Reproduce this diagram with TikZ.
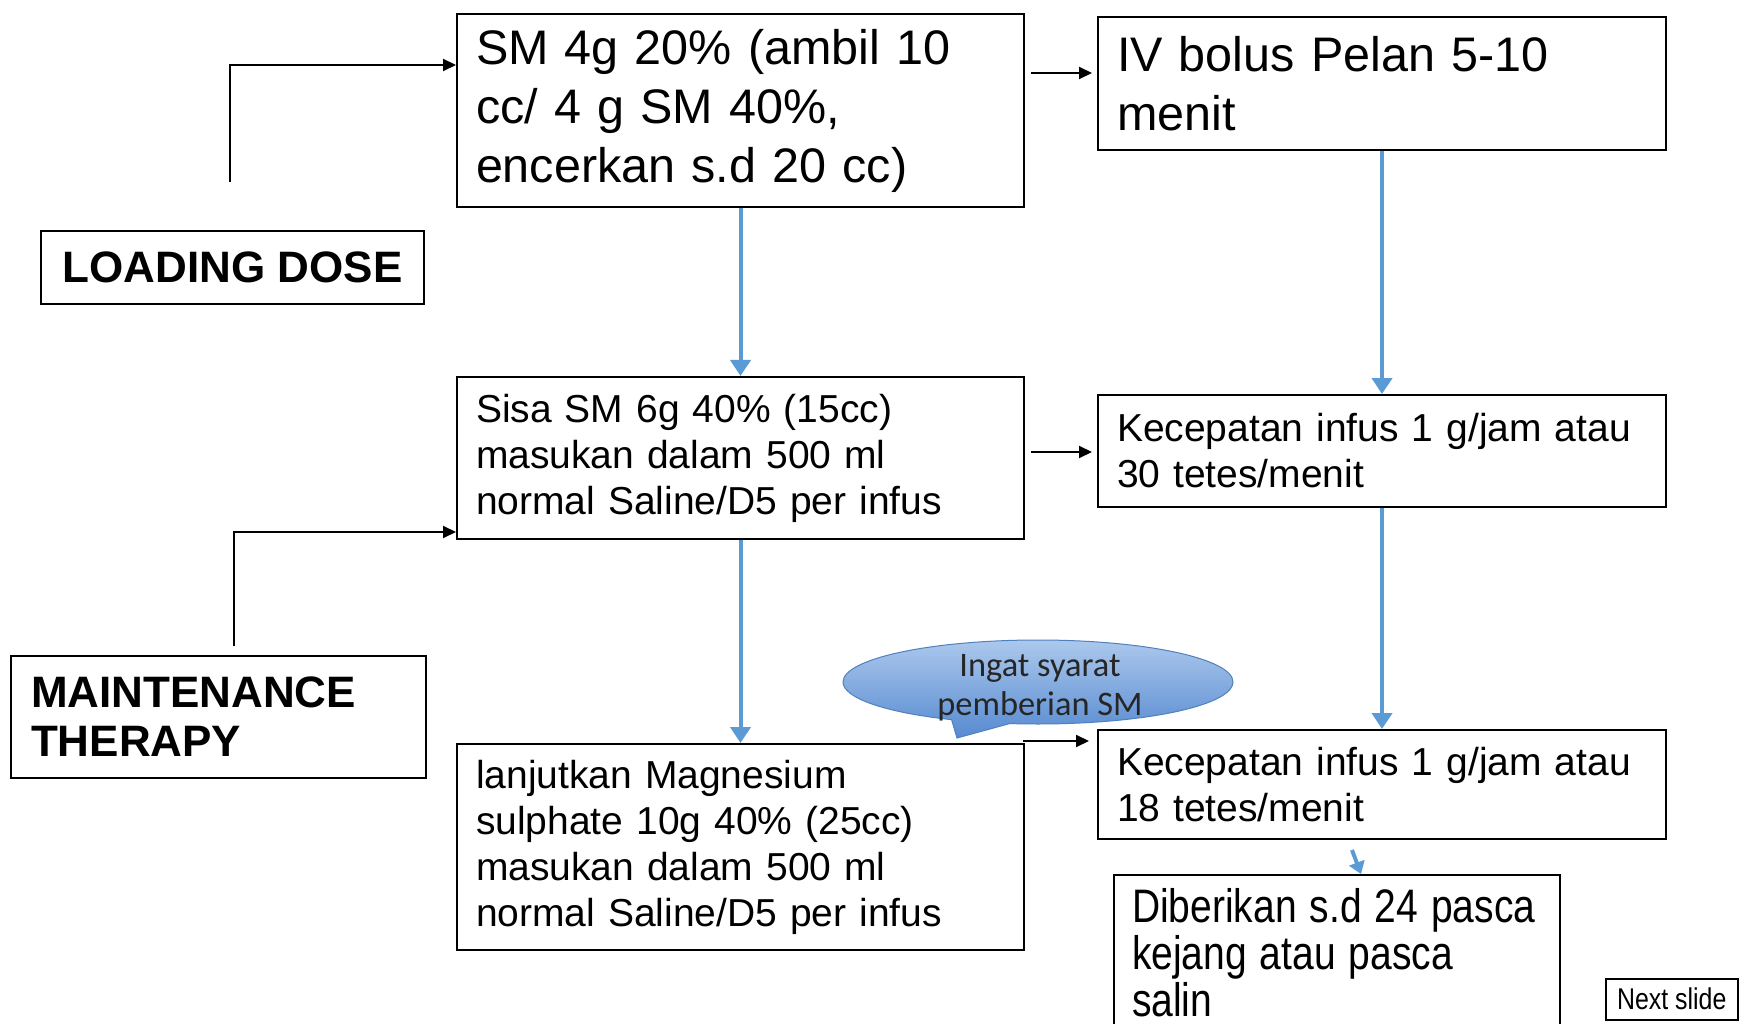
\documentclass[tikz,border=0pt]{standalone}
\usepackage{fontspec}
\usepackage{graphicx}
\setmainfont{Liberation Sans}
\newfontfamily\calfont{Carlito}
\usetikzlibrary{arrows.meta,shapes.callouts,calc}
\definecolor{flowblue}{RGB}{91,155,213}
\definecolor{elltop}{RGB}{172,200,237}
\definecolor{ellbot}{RGB}{86,138,208}
\definecolor{elledge}{RGB}{79,129,189}
\tikzset{
  x=1pt, y=1pt,
  basebox/.style={draw, line width=2pt, anchor=north west, align=left, inner xsep=19pt, inner ysep=0pt},
  bigbox/.style={basebox, font=\fontsize{48.5pt}{59pt}\selectfont},
  smallbox/.style={basebox, font=\fontsize{39pt}{46pt}\selectfont},
  labelbox/.style={draw, line width=2pt, anchor=north west, font=\bfseries\fontsize{44pt}{49pt}\selectfont},
  blk/.style={line width=2pt, -{Triangle[width=12pt,length=13pt]}},
  blu/.style={draw=flowblue, line width=4pt, -{Triangle[width=20pt,length=16pt]}},
}
\begin{document}
\begin{tikzpicture}
\path[use as bounding box, fill=white] (0,0) rectangle (1746,-1024);

% boxes
\node[bigbox, text width=529pt, minimum height=193pt] (A) at (456,-13)
  {SM 4g 20\% (ambil 10\\cc/ 4 g SM 40\%,\\encerkan s.d 20 cc)};
\node[bigbox, text width=530pt, minimum height=133pt] (B) at (1097,-16)
  {IV bolus Pelan 5-10\\menit};
\node[smallbox, text width=529pt, minimum height=162pt] (C) at (456,-376)
  {Sisa SM 6g 40\% (15cc)\\masukan dalam 500 ml\\normal Saline/D5 per infus};
\node[smallbox, text width=530pt, minimum height=112pt] (D) at (1097,-394)
  {Kecepatan infus 1 g/jam atau\\30 tetes/menit};
\node[smallbox, text width=529pt, minimum height=206pt] (E) at (456,-743)
  {lanjutkan Magnesium\\sulphate 10g 40\% (25cc)\\masukan dalam 500 ml\\normal Saline/D5 per infus};
\node[smallbox, text width=530pt, minimum height=109pt] (F) at (1097,-729)
  {Kecepatan infus 1 g/jam atau\\18 tetes/menit};
\node[draw, line width=2pt, anchor=north west, align=left, inner xsep=18pt, inner ysep=13pt,
      text width=410pt, font=\fontsize{47pt}{44pt}\selectfont] (G) at (1113,-874)
  {\scalebox{0.83}[1]{\begin{tabular}{@{}l@{}}Diberikan s.d 24 pasca\\kejang atau pasca\\salin\end{tabular}}};

\node[labelbox, minimum width=383pt, minimum height=73pt] (LD) at (40,-230) {LOADING DOSE};
\node[labelbox, align=left, inner xsep=20pt, inner ysep=0pt, text width=375pt, minimum height=122pt] (MT) at (10,-655)
  {MAINTENANCE\\THERAPY};

\node[draw, line width=1.5pt, anchor=north west, minimum width=132pt, minimum height=41pt, inner sep=0pt,
      font=\fontsize{30pt}{32pt}\selectfont] (next) at (1605,-978) {\scalebox{0.83}[1]{Next slide}};

% black connectors
\coordinate (ldstart) at (230,-182);
\draw[blk] (ldstart) |- ([yshift=-52pt]A.north west);
\coordinate (mtstart) at (234,-646);
\draw[blk] (mtstart) |- ([yshift=8pt]C.south west);
\coordinate (abstart) at (1031,-73);
\draw[blk, shorten >=5pt] (abstart) -- (abstart -| B.west);
\coordinate (cdstart) at (1031,-452);
\draw[blk, shorten >=5pt] (cdstart) -- (cdstart -| D.west);
\coordinate (efstart) at (1023,-741);
\draw[blk, shorten >=8pt] (efstart) -- (efstart -| F.west);

% blue connectors
\draw[blu] (A.south) -- (C.north);
\draw[blu] (B.south) -- (D.north);
\draw[blu] (C.south) -- (E.north);
\draw[blu] (D.south) -- (F.north);
\draw[draw=flowblue, line width=4pt, -{Triangle[width=16pt,length=12pt]}]
  ([xshift=-30pt,yshift=-10pt]F.south) -- ([xshift=24pt]G.north);

% callout ellipse
\node[ellipse callout, draw=elledge, line width=1pt, top color=elltop, bottom color=ellbot,
      minimum width=390pt, minimum height=84pt, inner sep=0pt, callout pointer arc=18,
      callout absolute pointer={(957,-738)}] (ell) at (1038,-682) {};
\node[font=\calfont\fontsize{34.4pt}{39pt}\selectfont, align=center, text=black!85, inner sep=0pt]
  (elltext) at (1040,-688) {Ingat syarat\\pemberian SM};
\end{tikzpicture}
\end{document}
